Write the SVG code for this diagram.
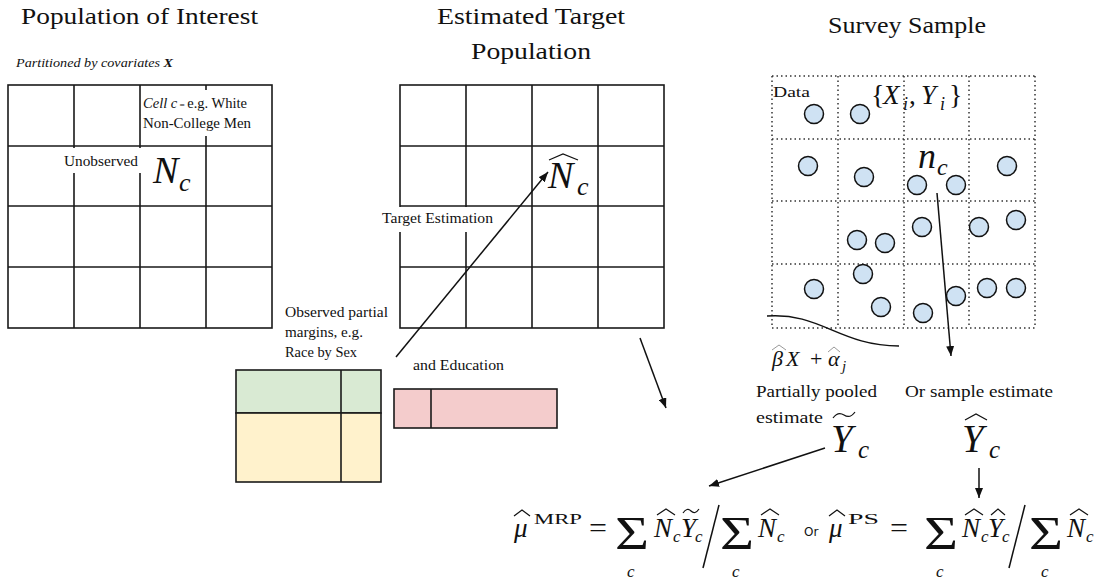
<svg xmlns="http://www.w3.org/2000/svg" width="1105" height="582" viewBox="0 0 1105 582">
<defs>
<marker id="ah" markerUnits="userSpaceOnUse" markerWidth="11" markerHeight="8" refX="10" refY="4" orient="auto"><path d="M0,0 L10,4 L0,8 z" fill="#111"/></marker>
<style>
.t{font-family:"Liberation Serif",serif;fill:#111}
.title{font-size:24px}
.lbl{font-size:14px}
.m{font-family:"Liberation Serif",serif;font-style:italic;fill:#111}
.grid{fill:none;stroke:#1a1a1a;stroke-width:1.6}
.dot{fill:none;stroke:#333;stroke-width:1.5;stroke-dasharray:1.5 3}
.pt{fill:#cfe2f3;stroke:#111;stroke-width:1.5}
.conn{fill:none;stroke:#111;stroke-width:1.5}
.acc{fill:none;stroke:#111;stroke-width:1.2}
.bg{fill:#fff}
.box{stroke:#1a1a1a;stroke-width:1.6}
.sig{font-family:"Liberation Serif",serif;fill:#111;font-size:46px}
.big{font-size:27px}
.sub{font-size:17px}
</style>
</defs>
<rect width="1105" height="582" fill="#fff"/>

<g id="titles">
<text class="t title" x="21" y="24" textLength="237" lengthAdjust="spacingAndGlyphs">Population of Interest</text>
<text class="t title" x="437" y="24" textLength="188" lengthAdjust="spacingAndGlyphs">Estimated Target</text>
<text class="t title" x="471" y="59" textLength="120" lengthAdjust="spacingAndGlyphs">Population</text>
<text class="t title" x="828" y="33" textLength="158" lengthAdjust="spacingAndGlyphs">Survey Sample</text>
</g>

<g id="population">
<text class="t" x="16" y="67" font-size="13" font-style="italic" textLength="157" lengthAdjust="spacingAndGlyphs">Partitioned by covariates <tspan font-weight="bold">X</tspan></text>
<rect class="grid" x="8" y="85" width="264" height="243"/>
<path class="grid" d="M74,85V328M140,85V328M206,85V328M8,146H272M8,206H272M8,267H272"/>
<rect class="bg" x="141" y="90" width="112" height="46"/>
<text class="t lbl" x="143" y="108" textLength="104" lengthAdjust="spacingAndGlyphs"><tspan font-style="italic">Cell c</tspan><tspan font-size="9"> = </tspan>e.g. White</text>
<text class="t lbl" x="143" y="128" textLength="108" lengthAdjust="spacingAndGlyphs">Non-College Men</text>
<rect class="bg" x="60" y="148" width="83" height="25"/>
<text class="t lbl" x="64" y="166" textLength="74" lengthAdjust="spacingAndGlyphs">Unobserved</text>
<text class="m" x="153" y="183" font-size="38">N</text>
<text class="m" x="179" y="191" font-size="26">c</text>
</g>

<g id="target">
<rect class="grid" x="400" y="85" width="264" height="243"/>
<path class="grid" d="M466,85V328M532,85V328M598,85V328M400,146H664M400,206H664M400,267H664"/>
<rect class="bg" x="380" y="207" width="116" height="25"/>
<text class="t lbl" x="382" y="223" textLength="111" lengthAdjust="spacingAndGlyphs">Target Estimation</text>
<text class="m" x="548" y="188" font-size="38">N</text>
<path class="acc" d="M549,160 L563,154 L578,160"/>
<text class="m" x="577" y="195" font-size="26">c</text>
</g>

<g id="margins-race-sex">
<text class="t lbl" x="285" y="317" textLength="103" lengthAdjust="spacingAndGlyphs">Observed partial</text>
<text class="t lbl" x="285" y="337" textLength="78" lengthAdjust="spacingAndGlyphs">margins, e.g.</text>
<text class="t lbl" x="285" y="357" textLength="72" lengthAdjust="spacingAndGlyphs">Race by Sex</text>
<rect class="box" x="236" y="370" width="145" height="43" fill="#d9ead3"/>
<rect class="box" x="236" y="413" width="145" height="69" fill="#fff2cc"/>
<path class="grid" d="M341,370V482"/>
</g>

<g id="margins-education">
<text class="t lbl" x="413" y="370" textLength="91" lengthAdjust="spacingAndGlyphs">and Education</text>
<rect class="box" x="394" y="389" width="163" height="39" fill="#f4cccc"/>
<path class="grid" d="M431,389V428"/>
</g>

<g id="survey">
<path class="dot" d="M772,76H1035M772,139H1035M772,201H1035M772,264H1035M772,328H1035M772,76V328M838,76V328M904,76V328M969,76V328M1035,76V328"/>
<text class="t lbl" x="773" y="97" textLength="37" lengthAdjust="spacingAndGlyphs">Data</text>
<text class="t" x="871" y="104" font-size="28" fill="#222">{</text>
<text class="m" x="883" y="104" font-size="27" fill="#222">X</text>
<text class="m" x="903" y="110" font-size="18" fill="#222">i</text>
<text class="t" x="909" y="104" font-size="27" fill="#222">,</text>
<text class="m" x="921" y="104" font-size="27" fill="#222">Y</text>
<text class="m" x="940" y="110" font-size="18" fill="#222">i</text>
<text class="t" x="949" y="104" font-size="28" fill="#222">}</text>
<text class="m" x="918" y="168" font-size="36">n</text>
<text class="m" x="937" y="175" font-size="24">c</text>
<circle class="pt" cx="814" cy="114" r="9.5"/>
<circle class="pt" cx="860" cy="114" r="9.5"/>
<circle class="pt" cx="808" cy="166" r="9.5"/>
<circle class="pt" cx="864" cy="177" r="9.5"/>
<circle class="pt" cx="917" cy="185" r="9.5"/>
<circle class="pt" cx="956" cy="185" r="9.5"/>
<circle class="pt" cx="1007" cy="166" r="9.5"/>
<circle class="pt" cx="922" cy="227" r="9.5"/>
<circle class="pt" cx="979" cy="227" r="9.5"/>
<circle class="pt" cx="1016" cy="220" r="9.5"/>
<circle class="pt" cx="857" cy="240" r="9.5"/>
<circle class="pt" cx="885" cy="243" r="9.5"/>
<circle class="pt" cx="814" cy="289" r="9.5"/>
<circle class="pt" cx="863" cy="274" r="9.5"/>
<circle class="pt" cx="881" cy="307" r="9.5"/>
<circle class="pt" cx="923" cy="313" r="9.5"/>
<circle class="pt" cx="956" cy="296" r="9.5"/>
<circle class="pt" cx="987" cy="288" r="9.5"/>
<circle class="pt" cx="1016" cy="288" r="9.5"/>
</g>

<g id="model-curve">
<path class="conn" d="M767,316 C820,312 840,346 899,346"/>
<text class="m" x="772" y="366" font-size="22" fill="#999">β</text>
<path d="M772,350 L779,345 L786,350" fill="none" stroke="#999" stroke-width="1"/>
<text class="m" x="786" y="366" font-size="22" fill="#999">X</text>
<text class="t" x="810" y="366" font-size="22" fill="#999">+</text>
<text class="m" x="828" y="366" font-size="22" fill="#999">α</text>
<path d="M828,352 L834,347 L840,352" fill="none" stroke="#999" stroke-width="1"/>
<text class="m" x="842" y="371" font-size="15" fill="#999">j</text>
</g>

<g id="pooled-estimate">
<text class="t" x="756" y="397" font-size="17" textLength="121" lengthAdjust="spacingAndGlyphs">Partially pooled</text>
<text class="t" x="756" y="423" font-size="17" textLength="67" lengthAdjust="spacingAndGlyphs">estimate</text>
<text class="m" x="831" y="452" font-size="39">Y</text>
<path class="acc" d="M833,418 Q838,411 844,415 T855,412"/>
<text class="m" x="858" y="458" font-size="25">c</text>
</g>

<g id="sample-estimate">
<text class="t" x="905" y="397" font-size="17" textLength="148" lengthAdjust="spacingAndGlyphs">Or sample estimate</text>
<text class="m" x="962" y="452" font-size="39">Y</text>
<path class="acc" d="M965,420 L976,414 L987,420"/>
<text class="m" x="989" y="458" font-size="25">c</text>
</g>

<g id="connectors">
<line class="conn" x1="396" y1="357" x2="548" y2="172" marker-end="url(#ah)"/>
<line class="conn" x1="640" y1="338" x2="666" y2="408" marker-end="url(#ah)"/>
<line class="conn" x1="937" y1="193" x2="951" y2="356" marker-end="url(#ah)"/>
<line class="conn" x1="825" y1="448" x2="709" y2="486" marker-end="url(#ah)"/>
<line class="conn" x1="979" y1="468" x2="979" y2="498" marker-end="url(#ah)"/>
</g>

<g id="formula">
<text class="m big" x="514" y="537">μ</text>
<path class="acc" d="M514,516 L522,510 L530,516"/>
<text class="t" x="534" y="524" font-size="15" textLength="48" lengthAdjust="spacingAndGlyphs">MRP</text>
<text class="t" x="589" y="537" font-size="27" textLength="18" lengthAdjust="spacingAndGlyphs">=</text>
<text class="sig" x="615" y="549" textLength="34" lengthAdjust="spacingAndGlyphs">Σ</text>
<text class="m sub" x="627" y="577">c</text>
<text class="m big" x="654" y="537">N</text>
<path class="acc" d="M657,515 L666,509 L675,515"/>
<text class="m sub" x="673" y="542">c</text>
<text class="m big" x="681" y="537">Y</text>
<path class="acc" d="M683,513 Q687,507 691,511 T699,509"/>
<text class="m sub" x="695" y="542">c</text>
<line class="conn" x1="703" y1="568" x2="719" y2="505"/>
<text class="sig" x="720" y="549" textLength="34" lengthAdjust="spacingAndGlyphs">Σ</text>
<text class="m sub" x="732" y="577">c</text>
<text class="m big" x="758" y="537">N</text>
<path class="acc" d="M761,515 L770,509 L779,515"/>
<text class="m sub" x="777" y="542">c</text>
<text x="804" y="536" font-family="DejaVu Sans, sans-serif" font-size="12" fill="#111">Or</text>
<text class="m big" x="829" y="537">μ</text>
<path class="acc" d="M829,516 L837,510 L845,516"/>
<text class="t" x="848" y="524" font-size="15" textLength="31" lengthAdjust="spacingAndGlyphs">PS</text>
<text class="t" x="890" y="537" font-size="27" textLength="18" lengthAdjust="spacingAndGlyphs">=</text>
<text class="sig" x="924" y="549" textLength="34" lengthAdjust="spacingAndGlyphs">Σ</text>
<text class="m sub" x="936" y="577">c</text>
<text class="m big" x="962" y="537">N</text>
<path class="acc" d="M965,515 L974,509 L983,515"/>
<text class="m sub" x="981" y="542">c</text>
<text class="m big" x="988" y="537">Y</text>
<path class="acc" d="M991,515 L998,509 L1005,515"/>
<text class="m sub" x="1002" y="542">c</text>
<line class="conn" x1="1009" y1="568" x2="1025" y2="505"/>
<text class="sig" x="1029" y="549" textLength="34" lengthAdjust="spacingAndGlyphs">Σ</text>
<text class="m sub" x="1041" y="577">c</text>
<text class="m big" x="1067" y="537">N</text>
<path class="acc" d="M1070,515 L1079,509 L1088,515"/>
<text class="m sub" x="1086" y="542">c</text>
</g>
</svg>
